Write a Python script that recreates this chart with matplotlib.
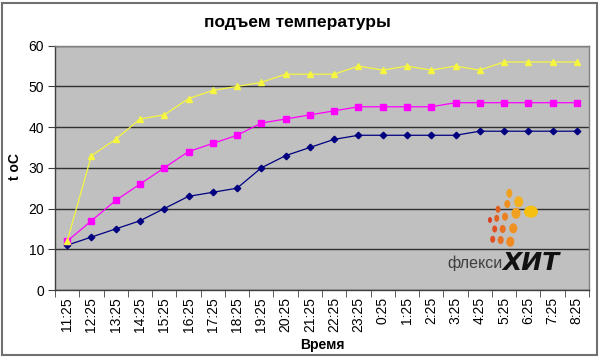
import matplotlib
matplotlib.use("Agg")
import matplotlib.pyplot as plt
from matplotlib.patches import Ellipse, Rectangle

times = ["11:25", "12:25", "13:25", "14:25", "15:25", "16:25", "17:25", "18:25",
         "19:25", "20:25", "21:25", "22:25", "23:25", "0:25", "1:25", "2:25",
         "3:25", "4:25", "5:25", "6:25", "7:25", "8:25"]
navy_vals = [11, 13, 15, 17, 20, 23, 24, 25, 30, 33, 35, 37, 38, 38, 38, 38, 38, 39, 39, 39, 39, 39]
magenta_vals = [12, 17, 22, 26, 30, 34, 36, 38, 41, 42, 43, 44, 45, 45, 45, 45, 46, 46, 46, 46, 46, 46]
yellow_vals = [12, 33, 37, 42, 43, 47, 49, 50, 51, 53, 53, 53, 55, 54, 55, 54, 55, 54, 56, 56, 56, 56]
y_ticks = [0, 10, 20, 30, 40, 50, 60]

plt.rcParams['font.family'] = ['Liberation Sans', 'DejaVu Sans']

W, H = 600, 358
fig = plt.figure(figsize=(6, 3.58), dpi=100)
fig.patch.set_facecolor('white')
ax = fig.add_axes([55 / W, 1 - 290 / H, (589 - 55) / W, (290 - 45.7) / H])
ax.set_facecolor('#C0C0C0')

x = list(range(len(times)))
ax.plot(x, navy_vals, color='#000080', marker='D', markersize=3.3, lw=0.9, zorder=3)
ax.plot(x, magenta_vals, color='#FF00FF', marker='s', markersize=4.5, lw=0.9, zorder=3)
ax.plot(x, yellow_vals, color='#F6F640', marker='^', markersize=4.8, lw=0.9, zorder=3)

ax.set_xlim(-0.5, len(times) - 0.5)
ax.set_ylim(0, 60)
ax.set_yticks(y_ticks)
ax.set_yticklabels([str(v) for v in y_ticks], fontsize=10)
ax.yaxis.grid(True, color='#303030', lw=1)
ax.set_axisbelow(True)

ax.set_xticks(x)
ax.set_xticklabels(times, rotation=90, fontsize=10)
ax.set_xticks([i - 0.5 for i in range(len(times) + 1)], minor=True)
ax.tick_params(axis='x', which='major', length=0, pad=5)
ax.tick_params(axis='x', which='minor', length=5, color='#404040', direction='out')
ax.tick_params(axis='y', length=5, color='#404040', direction='out', pad=3)

for s in ['top', 'right']:
    ax.spines[s].set_color('#808080')
    ax.spines[s].set_linewidth(1)
for s in ['left', 'bottom']:
    ax.spines[s].set_color('#404040')
    ax.spines[s].set_linewidth(1)

fig.text(297 / W, 1 - 22 / H, "подъем температуры", ha='center', va='center',
         fontsize=12.5, fontweight='bold')
fig.text(15 / W, 1 - 167 / H, "t oC", ha='center', va='center', rotation=90,
         fontsize=10, fontweight='bold')
fig.text(322 / W, 1 - 345 / H, "Время", ha='center', va='center',
         fontsize=10, fontweight='bold')

# logo decoration
dots = [(509.3, 193.3, 6, 9, '#F0A020'), (518.7, 201.7, 9, 11, '#F5B020'),
        (507.3, 204, 6, 8, '#EE9020'), (498, 209.3, 5, 7, '#E06020'),
        (516, 213.3, 9, 11, '#F0A020'), (531, 211.7, 14, 12, '#F5C010'),
        (490, 220, 4, 6, '#D84020'), (496.7, 218.3, 5, 7, '#E06020'),
        (505, 216.7, 6, 8, '#EA8020'), (494.7, 229, 5, 7, '#E05020'),
        (502.7, 229, 6, 8, '#E87020'), (513.3, 228.3, 8, 10, '#F09020'),
        (492.7, 239.3, 5, 7, '#E05020'), (500.7, 240, 6, 8, '#E87020'),
        (510.3, 241.7, 8, 10, '#F08820')]
for (px, py, w, h, c) in dots:
    fig.patches.append(Ellipse((px / W, 1 - py / H), w / W, h / H, angle=0,
                               facecolor=c, edgecolor='none', transform=fig.transFigure))
fig.text(503 / W, 1 - 263 / H, "флекси", ha='right', va='center', fontsize=11.5,
         color='#404040', family=['Liberation Sans'])
fig.text(502 / W, 1 - 263 / H, "ХИТ", ha='left', va='center', fontsize=18,
         color='#111111', fontweight='bold', style='italic', family=['DejaVu Sans'])

fig.patches.append(Rectangle((1.5 / W, 1 - 355 / H), 595.5 / W, 352 / H, fill=False,
                             edgecolor='#707070', lw=1.5, transform=fig.transFigure))

fig.savefig('out.png', dpi=100)
